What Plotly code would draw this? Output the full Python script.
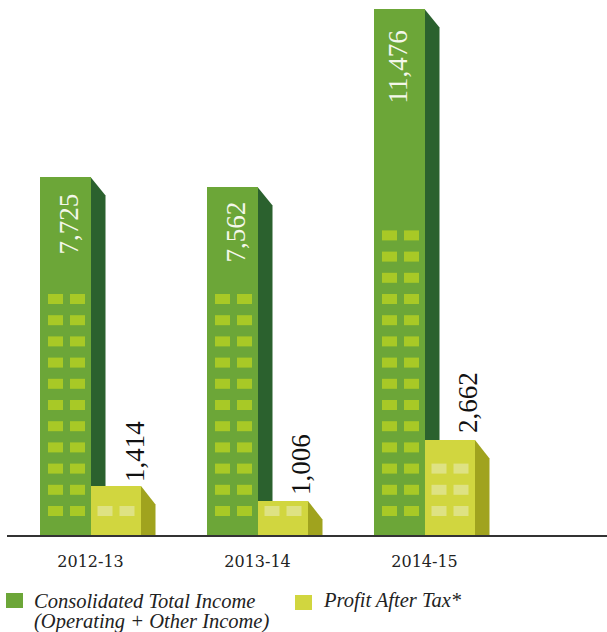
import plotly.graph_objects as go

# Labels printed on the chart
categories = ["2012-13", "2013-14", "2014-15"]
income_labels = ["7,725", "7,562", "11,476"]
profit_labels = ["1,414", "1,006", "2,662"]
legend_income = ["Consolidated Total Income", "(Operating + Other Income)"]
legend_profit = ["Profit After Tax*"]
# Bar heights as drawn in the picture (infographic, not strictly to scale)
income_heights = [7810, 7590, 11476]
profit_heights = [1069, 742, 2073]
# Rows of windows per building
income_rows = [11, 11, 14]
profit_rows = [1, 1, 3]

W, H = 607, 632
BASE = 535
LEFT = 7
PX_X = 167              # px per category
ZERO_X = 90.5           # px position of first category
UX = 1 / PX_X
UY = 11476 / 526        # data units per px

GREEN, GREEN_SIDE, GREEN_WIN = "#6CA638", "#2B612E", "#A8C926"
YEL, YEL_SIDE, YEL_WIN = "#D1D63F", "#A0A31E", "#DEE283"
BAR_W = 50.5 * UX
x = list(range(len(categories)))

fig = go.Figure()
fig.add_bar(x=x, y=income_heights, width=BAR_W, offset=-BAR_W, marker=dict(color=GREEN, line_width=0),
            name=legend_income[0], hoverinfo="skip")
fig.add_bar(x=x, y=profit_heights, width=BAR_W, offset=0, marker=dict(color=YEL, line_width=0),
            name=legend_profit[0], hoverinfo="skip")

shapes = []
def side(x0, top, color, dx_px):
    dx, dy = dx_px * UX, 18.5 * UY
    shapes.append(dict(type="path", layer="below", xref="x", yref="y", line_width=0, fillcolor=color,
                       path=f"M{x0},{top}L{x0+dx},{top-dy}L{x0+dx},0L{x0},0Z"))

def windows(xc, rows, color, cols, w):
    for r in range(rows):
        y0 = (19 + r * 21.2) * UY
        for c in cols:
            shapes.append(dict(type="rect", layer="above", xref="x", yref="y", line_width=0, fillcolor=color,
                               x0=xc + c * UX, x1=xc + (c + w) * UX, y0=y0, y1=y0 + 10 * UY))

for i in x:
    side(i, income_heights[i], GREEN_SIDE, 15)
    side(i + 50.5 * UX, profit_heights[i], YEL_SIDE, 14.5)
    windows(i, income_rows[i], GREEN_WIN, [-42.5, -20.5], 15)
    windows(i, profit_rows[i], YEL_WIN, [7, 29], 15)

ann = []
income_dx = [-21.5, -21.5, -27.5]
income_dy = [-15, -13, -20]
profit_dy = [2, 4, 5]
for i in x:
    ann.append(dict(x=i, y=income_heights[i], xref="x", yref="y", text=income_labels[i], textangle=-90,
                    showarrow=False, xshift=income_dx[i], yshift=income_dy[i], yanchor="top", xanchor="center",
                    font=dict(family="Liberation Serif", size=27, color="#F4F7EA")))
    ann.append(dict(x=i, y=profit_heights[i], xref="x", yref="y", text=profit_labels[i], textangle=-90,
                    showarrow=False, xshift=44, yshift=profit_dy[i], yanchor="bottom", xanchor="center",
                    font=dict(family="Liberation Serif", size=27, color="#111111")))

def px(xp): return xp / W
def py(yp): return 1 - yp / H

def legend_text(text, xp, yp):
    ann.append(dict(x=px(xp), y=py(yp), xref="paper", yref="paper", text=f"<i>{text}</i>", showarrow=False,
                    xanchor="left", yanchor="middle", font=dict(family="Liberation Serif", size=20.5, color="#222222")))

legend_text(legend_income[0], 32, 601)
legend_text(legend_income[1], 32, 621.5)
legend_text(legend_profit[0], 321, 600)
shapes.append(dict(type="rect", xref="paper", yref="paper", line_width=0, fillcolor=GREEN,
                   x0=px(6), x1=px(23), y0=py(593), y1=py(608)))
shapes.append(dict(type="rect", xref="paper", yref="paper", line_width=0, fillcolor=YEL,
                   x0=px(295), x1=px(312), y0=py(595), y1=py(610)))

fig.update_layout(
    width=W, height=H, margin=dict(l=0, r=0, t=0, b=0), autosize=False,
    paper_bgcolor="white", plot_bgcolor="white", showlegend=False, barmode="overlay",
    shapes=shapes, annotations=ann, bargap=0,
    xaxis=dict(domain=[LEFT / W, 1], range=[(LEFT - ZERO_X) * UX, (W - ZERO_X) * UX],
               tickmode="array", tickvals=x, ticktext=categories, ticks="", showgrid=False, zeroline=False,
               showline=True, linecolor="#333333", linewidth=2, ticklabelstandoff=11,
               tickfont=dict(family="DejaVu Serif", size=16, color="#222222")),
    yaxis=dict(domain=[(H - BASE) / H, 1], range=[0, BASE * UY], visible=False),
)
fig.write_html("out.html", config={"displayModeBar": False},
               post_script="document.body.style.margin='0';document.body.style.overflow='hidden';")
